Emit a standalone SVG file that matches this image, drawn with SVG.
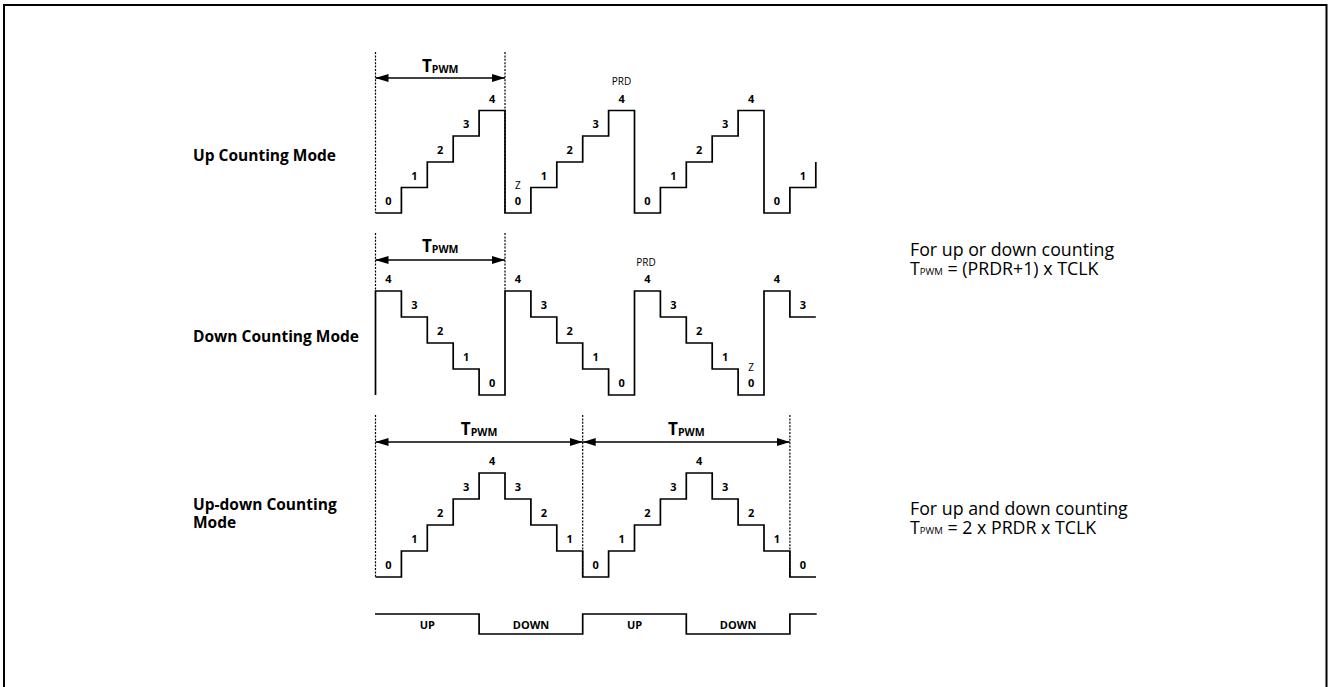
<svg xmlns="http://www.w3.org/2000/svg" width="1329" height="687" viewBox="0 0 1329 687">
<style>
.w{fill:none;stroke:#000;stroke-width:1.7;stroke-linejoin:miter}
.d{fill:none;stroke:#000;stroke-width:1.2;stroke-dasharray:2 1.4}
.a{fill:none;stroke:#000;stroke-width:1.7}
.n{font-family:"Open Sans","Liberation Sans",sans-serif;font-size:11px;font-weight:bold;text-anchor:middle;fill:#000}
.s{font-family:"Open Sans","Liberation Sans",sans-serif;font-size:10px;text-anchor:middle;fill:#000}
.t{font-family:"Open Sans","Liberation Sans",sans-serif;font-weight:bold;text-anchor:middle;fill:#000}
.m{font-family:"Open Sans","Liberation Sans",sans-serif;font-size:15.5px;font-weight:bold;fill:#000}
.f{font-family:"Open Sans","Liberation Sans",sans-serif;font-size:17.8px;fill:#000}
</style>
<defs>
<marker id="ah" markerWidth="13" markerHeight="8" refX="13" refY="4" orient="auto-start-reverse" markerUnits="userSpaceOnUse"><path d="M0,0 L13,4 L0,8 z" fill="#000"/></marker>
</defs>
<rect x="4" y="5" width="1322.5" height="690" fill="#fff" stroke="#000" stroke-width="2"/>

<g id="mode-labels">
<text class="m" x="193" y="161">Up Counting Mode</text>
<text class="m" x="193" y="342">Down Counting Mode</text>
<text class="m" x="193" y="510">Up-down Counting<tspan x="193" dy="18">Mode</tspan></text>
</g>

<g id="formulas">
<text class="f" x="910" y="256">For up or down counting<tspan x="910" dy="19">T</tspan><tspan font-size="9.5px">PWM</tspan><tspan> = (PRDR+1) x TCLK</tspan></text>
<text class="f" x="910" y="515">For up and down counting<tspan x="910" dy="19">T</tspan><tspan font-size="9.5px">PWM</tspan><tspan> = 2 x PRDR x TCLK</tspan></text>
</g>

<g id="up-counting">
<path class="w" d="M375.5,213 H401.4 V187.5 H427.3 V162 H453.2 V136 H479.1 V110.5 H505 V213 H530.9 V187.5 H556.8 V162 H582.7 V136 H608.6 V110.5 H634.5 V213 H660.4 V187.5 H686.3 V162 H712.2 V136 H738.1 V110.5 H764 V213 H789.9 V187.5 H815.8 V162"/>
<line class="d" x1="375.5" y1="52" x2="375.5" y2="213"/>
<line class="d" x1="505" y1="52" x2="505" y2="213"/>
<text class="t" x="440.25" y="72" font-size="17px">T<tspan font-size="10.5px" dy="1">PWM</tspan></text>
<text class="n" x="388.45" y="205">0</text>
<text class="n" x="414.35" y="179.5">1</text>
<text class="n" x="440.25" y="154">2</text>
<text class="n" x="466.15" y="128">3</text>
<text class="n" x="492.05" y="102.5">4</text>
<text class="s" x="517.95" y="188.5">Z</text>
<text class="n" x="517.95" y="205">0</text>
<text class="n" x="543.85" y="179.5">1</text>
<text class="n" x="569.75" y="154">2</text>
<text class="n" x="595.65" y="128">3</text>
<text class="n" x="621.55" y="102.5">4</text>
<text class="s" x="621.55" y="85">PRD</text>
<text class="n" x="647.45" y="205">0</text>
<text class="n" x="673.35" y="179.5">1</text>
<text class="n" x="699.25" y="154">2</text>
<text class="n" x="725.15" y="128">3</text>
<text class="n" x="751.05" y="102.5">4</text>
<text class="n" x="776.95" y="205">0</text>
<text class="n" x="802.85" y="179.5">1</text>
</g>

<g id="down-counting">
<path class="w" d="M375.5,395 V291 H401.4 V317 H427.3 V343 H453.2 V369 H479.1 V395 H505 V291 H530.9 V317 H556.8 V343 H582.7 V369 H608.6 V395 H634.5 V291 H660.4 V317 H686.3 V343 H712.2 V369 H738.1 V395 H764 V291 H789.9 V317 H815.8"/>
<line class="d" x1="375.5" y1="233" x2="375.5" y2="291"/>
<line class="d" x1="505" y1="233" x2="505" y2="291"/>
<text class="t" x="440.25" y="252" font-size="17px">T<tspan font-size="10.5px" dy="1">PWM</tspan></text>
<text class="n" x="388.45" y="283">4</text>
<text class="n" x="414.35" y="309">3</text>
<text class="n" x="440.25" y="335">2</text>
<text class="n" x="466.15" y="361">1</text>
<text class="n" x="492.05" y="387">0</text>
<text class="n" x="517.95" y="283">4</text>
<text class="n" x="543.85" y="309">3</text>
<text class="n" x="569.75" y="335">2</text>
<text class="n" x="595.65" y="361">1</text>
<text class="n" x="621.55" y="387">0</text>
<text class="s" x="646" y="265.5">PRD</text>
<text class="n" x="647.45" y="283">4</text>
<text class="n" x="673.35" y="309">3</text>
<text class="n" x="699.25" y="335">2</text>
<text class="n" x="725.15" y="361">1</text>
<text class="s" x="751.05" y="370.5">Z</text>
<text class="n" x="751.05" y="387">0</text>
<text class="n" x="776.95" y="283">4</text>
<text class="n" x="802.85" y="309">3</text>
</g>

<g id="up-down-counting">
<path class="w" d="M375.5,577 H401.4 V551 H427.3 V525 H453.2 V499 H479.1 V473 H505 V499 H530.9 V525 H556.8 V551 H582.7 V577 H608.6 V551 H634.5 V525 H660.4 V499 H686.3 V473 H712.2 V499 H738.1 V525 H764 V551 H789.9 V577 H816"/>
<line class="d" x1="375.5" y1="415" x2="375.5" y2="577"/>
<line class="d" x1="582.7" y1="415" x2="582.7" y2="577"/>
<line class="d" x1="789.9" y1="415" x2="789.9" y2="577"/>
<text class="t" x="479.1" y="435" font-size="17px">T<tspan font-size="10.5px" dy="1">PWM</tspan></text>
<text class="t" x="686.3" y="435" font-size="17px">T<tspan font-size="10.5px" dy="1">PWM</tspan></text>
<text class="n" x="388.45" y="569">0</text>
<text class="n" x="414.35" y="543">1</text>
<text class="n" x="440.25" y="517">2</text>
<text class="n" x="466.15" y="491">3</text>
<text class="n" x="492.05" y="465">4</text>
<text class="n" x="517.95" y="491">3</text>
<text class="n" x="543.85" y="517">2</text>
<text class="n" x="569.75" y="543">1</text>
<text class="n" x="595.65" y="569">0</text>
<text class="n" x="621.55" y="543">1</text>
<text class="n" x="647.45" y="517">2</text>
<text class="n" x="673.35" y="491">3</text>
<text class="n" x="699.25" y="465">4</text>
<text class="n" x="725.15" y="491">3</text>
<text class="n" x="751.05" y="517">2</text>
<text class="n" x="776.95" y="543">1</text>
<text class="n" x="802.85" y="569">0</text>
</g>

<g id="direction-bar">
<path class="w" d="M375,614 H479.1 V634 H582.7 V614 H686.3 V634 H789.9 V614 H816.7"/>
<text class="n" x="427.3" y="628.5">UP</text>
<text class="n" x="531" y="628.5">DOWN</text>
<text class="n" x="634.5" y="628.5">UP</text>
<text class="n" x="738.1" y="628.5">DOWN</text>
</g>

<g id="connectors">
<line class="a" x1="375.5" y1="78" x2="505" y2="78" marker-start="url(#ah)" marker-end="url(#ah)"/>
<line class="a" x1="375.5" y1="260" x2="505" y2="260" marker-start="url(#ah)" marker-end="url(#ah)"/>
<line class="a" x1="375.5" y1="442" x2="582.7" y2="442" marker-start="url(#ah)" marker-end="url(#ah)"/>
<line class="a" x1="582.7" y1="442" x2="789.9" y2="442" marker-start="url(#ah)" marker-end="url(#ah)"/>
</g>
</svg>
